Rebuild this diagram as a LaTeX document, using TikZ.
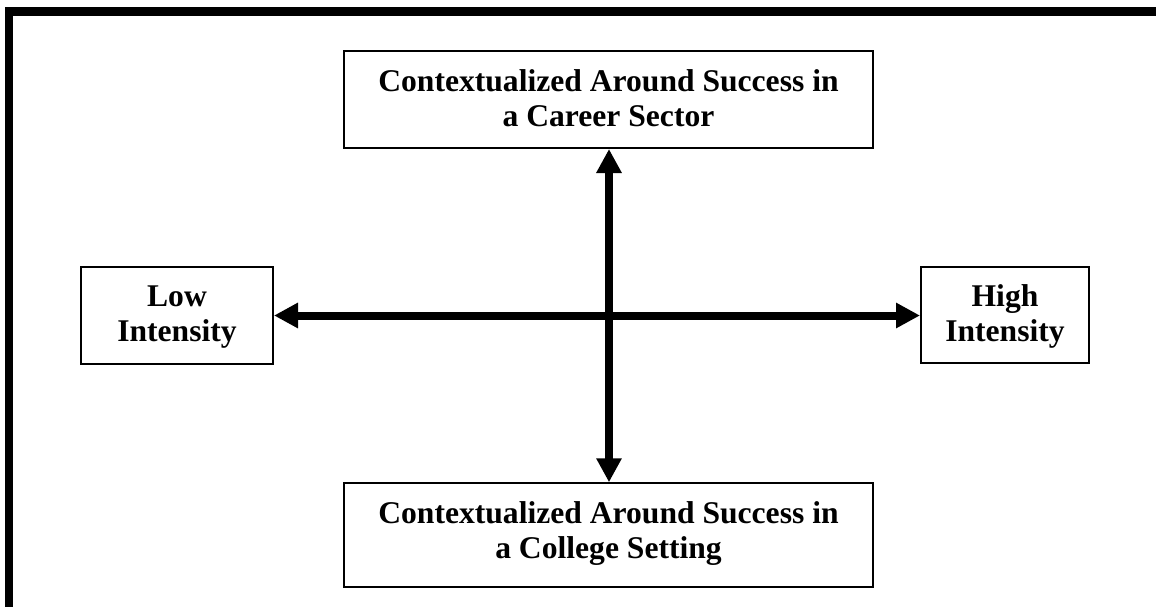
\documentclass[tikz,border=0pt]{standalone}
\usepackage{fontspec}
\setmainfont{Liberation Serif}
\usetikzlibrary{arrows.meta}
\begin{document}
\begin{tikzpicture}[x=1pt,y=-1pt,
  boxnode/.style={draw=black,line width=2pt,inner sep=0pt,fill=white},
  txt/.style={anchor=base,inner sep=0pt,font=\fontsize{31.6}{35}\selectfont\bfseries},
  axis/.style={line width=8pt,{Triangle[length=24pt,width=24pt]}-{Triangle[length=24pt,width=24pt]}}]
\useasboundingbox (0,0) rectangle (1156,607);
\fill[white] (0,0) rectangle (1156,607);
% frame
\fill[black] (5,7) rectangle (13,607);
\fill[black] (5,7) rectangle (1156,16);
% boxes
\node[boxnode,minimum width=529pt,minimum height=97pt] (top) at (608.5,99.5) {};
\node[boxnode,minimum width=529pt,minimum height=103.5pt] (bot) at (608.5,535) {};
\node[boxnode,minimum width=192pt,minimum height=97pt] (low) at (177,315.5) {};
\node[boxnode,minimum width=168pt,minimum height=96pt] (high) at (1005,315) {};
% texts
\node[txt] (top1) at (608.5,91.7) {Contextualized Around Success in};
\node[txt] (top2) at (608.5,126.7) {a Career Sector};
\node[txt] (bot1) at (608.5,523.3) {Contextualized Around Success in};
\node[txt] (bot2) at (608.5,558.3) {a College Setting};
\node[txt] (low1) at (177,306.7) {Low};
\node[txt] (low2) at (177,341.7) {Intensity};
\node[txt] (high1) at (1005,306.7) {High};
\node[txt] (high2) at (1005,341.7) {Intensity};
% axes
\draw[axis] (top.south -| 609,0) -- (bot.north -| 609,0);
\draw[axis] (low.east |- 0,315.5) -- (high.west |- 0,315.5);
\end{tikzpicture}
\end{document}
